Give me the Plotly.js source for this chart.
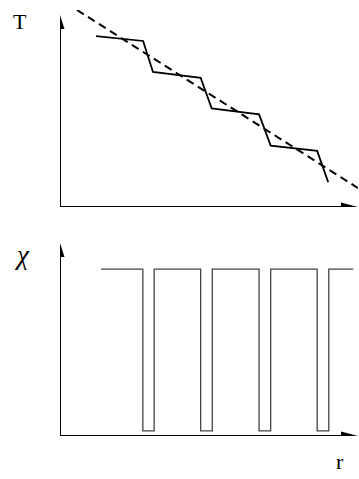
<!DOCTYPE html>
<html><head><meta charset="utf-8">
<script src="https://cdn.plot.ly/plotly-3.0.1.min.js"></script>
<style>html,body{margin:0;padding:0;background:#fff}#chart{width:359px;height:479px}</style>
</head><body><div id="chart"></div>
<script>
// Top panel: stepped temperature profile T(r) and its linear trend
const stepR = [1.21, 2.79, 3.12, 4.72, 5.09, 6.68, 7.07, 8.63, 9.00];
const stepT = [9.11, 8.85, 7.20, 6.89, 5.26, 4.94, 3.27, 2.99, 1.32];
const trendR = [0.57, 10.0];
const trendT = [10.5, 1.01];
// Bottom panel: chi(r) square wave
const chiStart = 1.38, chiEnd = 9.84;
const chiDown = [2.78, 4.72, 6.68, 8.63];
const chiUp = [3.16, 5.11, 7.07, 9.02];
const chiHigh = 8.65, chiLow = 0.26;
const labelTop = 'T', labelBottom = 'χ', labelX = 'r';

const chiR = [chiStart], chiV = [chiHigh];
chiDown.forEach((d, i) => { chiR.push(d, chiUp[i]); chiV.push(chiLow, chiHigh); });
chiR.push(chiEnd); chiV.push(chiHigh);

const traces = [
  {x: trendR, y: trendT, mode: 'lines', xaxis: 'x', yaxis: 'y',
   line: {color: '#000', width: 2, dash: '8px,5px'}, hoverinfo: 'skip'},
  {x: stepR, y: stepT, mode: 'lines', xaxis: 'x', yaxis: 'y',
   line: {color: '#000', width: 1.8}, hoverinfo: 'skip'},
  {x: chiR, y: chiV, mode: 'lines', xaxis: 'x2', yaxis: 'y2',
   line: {color: '#444', width: 1.3, shape: 'hv'}, hoverinfo: 'skip'}
];

const ax = {visible: false, fixedrange: true};
const W = 359, H = 479;
const xDom = [0.1671, 0.9972];
// px per data unit, used only to size the axis arrowheads
const pxX = (xDom[1] - xDom[0]) * W / 10;
function axisShapes(xr, yr, yTip, pxY) {
  const hw = 4.5;
  const dyL = 14 / pxY, dxW = hw / pxX;
  const dxL = 17 / pxX, dyW = hw / pxY;
  const xTip = 10;
  return [
    {type: 'line', xref: xr, yref: yr, x0: 0, x1: 0, y0: 0, y1: yTip - dyL * 0.7, line: {color: '#000', width: 2}},
    {type: 'line', xref: xr, yref: yr, x0: 0, x1: xTip - dxL * 0.7, y0: 0, y1: 0, line: {color: '#000', width: 2}},
    {type: 'path', xref: xr, yref: yr,
     path: `M0,${yTip}L${-dxW},${yTip - dyL}L${dxW},${yTip - dyL}Z`, fillcolor: '#000', line: {width: 0}},
    {type: 'path', xref: xr, yref: yr,
     path: `M${xTip},0L${xTip - dxL},${-dyW}L${xTip - dxL},${dyW}Z`, fillcolor: '#000', line: {width: 0}}
  ];
}
const yTopDom = [0.5678, 0.9791], yBotDom = [0.0898, 0.4927];
const pxYTop = (yTopDom[1] - yTopDom[0]) * H / 10.5;
const pxYBot = (yBotDom[1] - yBotDom[0]) * H / 10;

const serif = 'Liberation Serif';
const lab = (text, x, y, size, style) => ({
  text: style === 'italic' ? '<i>' + text + '</i>' : text,
  xref: 'paper', yref: 'paper', x: x, y: y, xanchor: 'center', yanchor: 'middle',
  showarrow: false, font: {family: serif, size: size, color: '#000'}
});

const layout = {
  width: W, height: H,
  margin: {l: 0, r: 0, t: 0, b: 0},
  paper_bgcolor: '#fff', plot_bgcolor: 'rgba(0,0,0,0)',
  showlegend: false,
  xaxis: Object.assign({domain: xDom, range: [0, 10], anchor: 'y'}, ax),
  yaxis: Object.assign({domain: yTopDom, range: [0, 10.5], anchor: 'x'}, ax),
  xaxis2: Object.assign({domain: xDom, range: [0, 10], anchor: 'y2'}, ax),
  yaxis2: Object.assign({domain: yBotDom, range: [0, 10], anchor: 'x2'}, ax),
  shapes: axisShapes('x', 'y', 10.23, pxYTop).concat(axisShapes('x2', 'y2', 10, pxYBot)),
  annotations: [
    lab(labelTop, 0.0557, 0.9551, 22),
    lab(labelBottom, 0.0599, 0.4676, 27, 'italic'),
    lab(labelX, 0.9471, 0.0367, 22)
  ]
};

Plotly.newPlot('chart', traces, layout, {staticPlot: true, displayModeBar: false});
</script>
</body></html>
